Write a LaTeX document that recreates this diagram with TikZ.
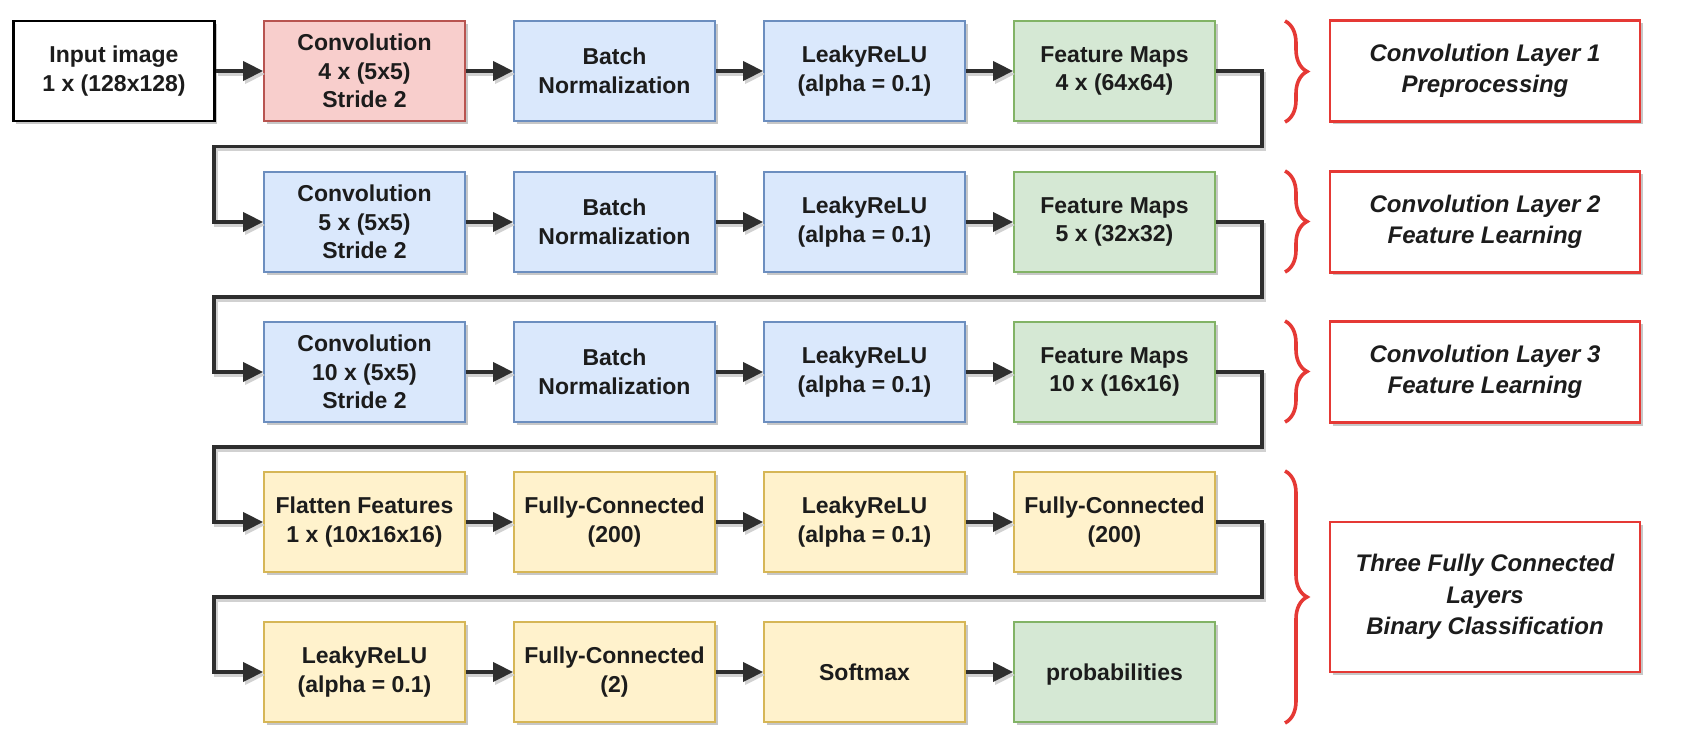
\documentclass[tikz,border=0pt]{standalone}
\usepackage{fontspec}
\setmainfont{Liberation Sans}
\usetikzlibrary{arrows.meta,decorations.pathreplacing,shadows}
\definecolor{redF}{HTML}{F8CECC}\definecolor{redD}{HTML}{B85450}
\definecolor{bluF}{HTML}{DAE8FC}\definecolor{bluD}{HTML}{6C8EBF}
\definecolor{grnF}{HTML}{D5E8D4}\definecolor{grnD}{HTML}{82B366}
\definecolor{ylwF}{HTML}{FFF2CC}\definecolor{ylwD}{HTML}{D6B656}
\definecolor{hlRed}{HTML}{E53935}
\definecolor{ink}{HTML}{1C1C1C}
\definecolor{conn}{HTML}{2E2E2E}
\tikzset{
  sh/.style={drop shadow={shadow xshift=2.5pt,shadow yshift=-3pt,opacity=0.22,fill=black}},
  blk/.style={sh,draw,line width=1.8pt,minimum width=201pt,minimum height=100pt,inner sep=0pt,
     align=center,font=\fontsize{23}{28.5}\selectfont\bfseries,text=ink},
  inbox/.style={blk,fill=white,draw=black,line width=2.6pt},
  redbox/.style={blk,fill=redF,draw=redD},
  blubox/.style={blk,fill=bluF,draw=bluD},
  grnbox/.style={blk,fill=grnF,draw=grnD},
  ylwbox/.style={blk,fill=ylwF,draw=ylwD},
  lbl/.style={sh,draw=hlRed,fill=white,line width=2.6pt,minimum width=310pt,inner sep=0pt,
     align=center,font=\fontsize{24}{31.5}\selectfont\bfseries\itshape,text=ink},
  conn/.style={draw=conn,line width=3.6pt,-{Triangle[length=20pt,width=19pt]},
     preaction={draw=black!18,line width=3.6pt,transform canvas={xshift=2pt,yshift=-3pt}}},
  brc/.style={draw=hlRed,line width=3.6pt,decorate,decoration={brace,amplitude=22pt}},
}
\begin{document}
\begin{tikzpicture}[x=1pt,y=-1pt]
\useasboundingbox (0,0) rectangle (1701,743);
% row 1
\node[inbox] (in) at (114,71) {Input image\\1 x (128x128)};
\node[redbox] (c1) at (364.5,71) {Convolution\\4 x (5x5)\\Stride 2};
\node[blubox] (b1) at (614.5,71) {Batch\\Normalization};
\node[blubox] (l1) at (864.5,71) {LeakyReLU\\(alpha = 0.1)};
\node[grnbox] (f1) at (1114.5,71) {Feature Maps\\4 x (64x64)};
% row 2
\node[blubox] (c2) at (364.5,222) {Convolution\\5 x (5x5)\\Stride 2};
\node[blubox] (b2) at (614.5,222) {Batch\\Normalization};
\node[blubox] (l2) at (864.5,222) {LeakyReLU\\(alpha = 0.1)};
\node[grnbox] (f2) at (1114.5,222) {Feature Maps\\5 x (32x32)};
% row 3
\node[blubox] (c3) at (364.5,372) {Convolution\\10 x (5x5)\\Stride 2};
\node[blubox] (b3) at (614.5,372) {Batch\\Normalization};
\node[blubox] (l3) at (864.5,372) {LeakyReLU\\(alpha = 0.1)};
\node[grnbox] (f3) at (1114.5,372) {Feature Maps\\10 x (16x16)};
% row 4
\node[ylwbox] (fl) at (364.5,522) {Flatten Features\\1 x (10x16x16)};
\node[ylwbox] (fc1) at (614.5,522) {Fully-Connected\\(200)};
\node[ylwbox] (l4) at (864.5,522) {LeakyReLU\\(alpha = 0.1)};
\node[ylwbox] (fc2) at (1114.5,522) {Fully-Connected\\(200)};
% row 5
\node[ylwbox] (l5) at (364.5,672) {LeakyReLU\\(alpha = 0.1)};
\node[ylwbox] (fc3) at (614.5,672) {Fully-Connected\\(2)};
\node[ylwbox] (sm) at (864.5,672) {Softmax};
\node[grnbox,text depth=0pt] (pr) at (1114.5,672) {probabilities};
% labels
\node[lbl,minimum height=101pt] (t1) at (1485,71) {Convolution Layer 1\\Preprocessing};
\node[lbl,minimum height=101pt] (t2) at (1485,222) {Convolution Layer 2\\Feature Learning};
\node[lbl,minimum height=101pt] (t3) at (1485,372) {Convolution Layer 3\\Feature Learning};
\node[lbl,minimum height=150pt] (t4) at (1485,597) {Three Fully Connected\\Layers\\Binary Classification};
% straight connectors
\foreach \a/\b in {in/c1,c1/b1,b1/l1,l1/f1,c2/b2,b2/l2,l2/f2,c3/b3,b3/l3,l3/f3,fl/fc1,fc1/l4,l4/fc2,l5/fc3,fc3/sm,sm/pr}
  \draw[conn] (\a) -- (\b);
% wrap connectors
\draw[conn] (f1.east) -- (1262,71) -- (1262,146.5) -- (214,146.5) |- (c2.west);
\draw[conn] (f2.east) -- (1262,222) -- (1262,297) -- (214,297) |- (c3.west);
\draw[conn] (f3.east) -- (1262,372) -- (1262,447) -- (214,447) |- (fl.west);
\draw[conn] (fc2.east) -- (1262,522) -- (1262,597) -- (214,597) |- (l5.west);
% braces
\coordinate (r1t) at (1285,21); \coordinate (r1b) at (1285,122);
\coordinate (r2t) at (1285,171); \coordinate (r2b) at (1285,272);
\coordinate (r3t) at (1285,321); \coordinate (r3b) at (1285,422);
\coordinate (r4t) at (1285,471); \coordinate (r4b) at (1285,723);
\draw[brc] (r1t) -- (r1b);
\draw[brc] (r2t) -- (r2b);
\draw[brc] (r3t) -- (r3b);
\draw[brc] (r4t) -- (r4b);
\end{tikzpicture}
\end{document}
